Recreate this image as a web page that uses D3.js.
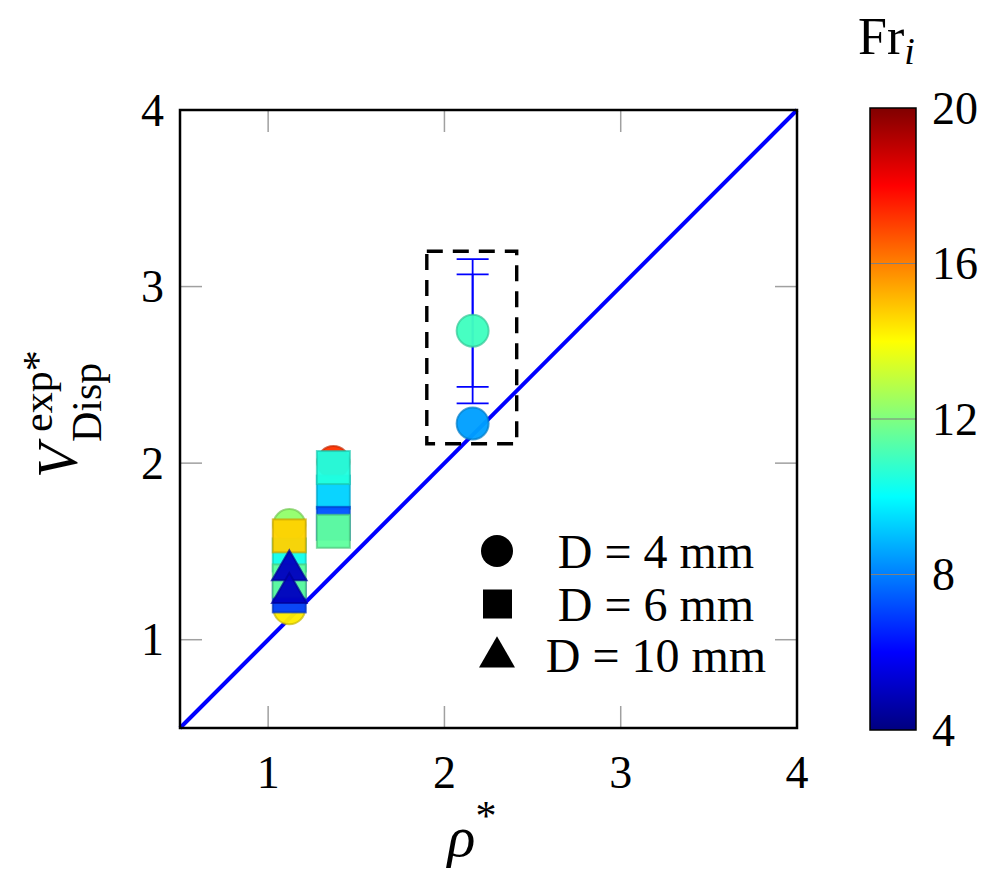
<!DOCTYPE html>
<html>
<head>
<meta charset="utf-8">
<script src="https://cdn.jsdelivr.net/npm/d3@7"></script>
<style>
  body { margin: 0; background: #fff; }
  text, tspan { font-family: "Liberation Serif", "Times New Roman", serif; fill: #000; }
  .it { font-family: "Liberation Serif", serif; font-style: italic; }
</style>
</head>
<body>
<script>
// D = 4 mm (circles)
let circRho = [1.12, 1.12, 1.37, 2.16, 2.16];
let circV = [1.649, 1.178, 2.007, 2.75, 2.225];
let circFr = [12.3, 14.3, 17.2, 11.0, 8.5];

// D = 6 mm (squares), in drawing order
let sqRho = [1.12, 1.12, 1.12, 1.12, 1.37, 1.37, 1.37, 1.37];
let sqV = [1.48, 1.248, 1.333, 1.588, 1.836, 1.975, 1.659, 1.614];
let sqFr = [10.3, 7.0, 11.5, 14.7, 9.3, 10.5, 7.3, 11.5];

// D = 10 mm (triangles)
let triRho = [1.12, 1.12];
let triV = [1.393, 1.265];
let triFr = [5.0, 5.0];

// error bars on the rho* = 2.16 point
let errRho = [2.16, 2.16];
let errLow = [2.338, 2.432];
let errHigh = [3.156, 3.069];

// dashed box around the large-density case
let boxRho = [1.9, 2.41];
let boxV = [2.11, 3.2];

let xTicks = [1, 2, 3, 4];
let yTicks = [1, 2, 3, 4];
let cbTicks = [4, 8, 12, 16, 20];
let legendLabels = ["D = 4 mm", "D = 6 mm", "D = 10 mm"];

let margin = { top: 110, left: 180 };
let width = 617, height = 618;

let svg = d3.select("body").append("svg").attr("width", 997).attr("height", 879);

let x = d3.scaleLinear().domain([0.5, 4]).range([margin.left, margin.left + width]);
let y = d3.scaleLinear().domain([0.5, 4]).range([margin.top + height, margin.top]);

// jet colormap over Fr_i in [4, 20]
let jet = d3.scaleLinear()
  .domain([4, 6, 10, 14, 18, 20])
  .range(["#000080", "#0000ff", "#00ffff", "#ffff00", "#ff0000", "#800000"])
  .interpolate(d3.interpolateRgb);
let edge = function(fr) { return d3.interpolateRgb(jet(fr), "#000")(0.22); };

// ticks (inside, grey, all four sides)
let tickLen = 22;
let ticks = svg.append("g").attr("stroke", "#a0a0a0").attr("stroke-width", 1.5);
xTicks.filter(d => d < 4).forEach(function(d) {
  ticks.append("line").attr("x1", x(d)).attr("x2", x(d)).attr("y1", y(0.5)).attr("y2", y(0.5) - tickLen);
  ticks.append("line").attr("x1", x(d)).attr("x2", x(d)).attr("y1", y(4)).attr("y2", y(4) + tickLen);
});
yTicks.filter(d => d < 4).forEach(function(d) {
  ticks.append("line").attr("y1", y(d)).attr("y2", y(d)).attr("x1", x(0.5)).attr("x2", x(0.5) + tickLen);
  ticks.append("line").attr("y1", y(d)).attr("y2", y(d)).attr("x1", x(4)).attr("x2", x(4) - tickLen);
});

// tick labels
svg.append("g").selectAll("text").data(xTicks).enter().append("text")
  .attr("x", d => x(d)).attr("y", y(0.5) + 60)
  .attr("text-anchor", "middle").style("font-size", "46px").text(d => d);
svg.append("g").selectAll("text").data(yTicks).enter().append("text")
  .attr("x", x(0.5) - 16).attr("y", d => y(d)).attr("dy", "0.34em")
  .attr("text-anchor", "end").style("font-size", "46px").text(d => d);

// y = x line
svg.append("line")
  .attr("x1", x(0.5)).attr("y1", y(0.5)).attr("x2", x(4)).attr("y2", y(4))
  .attr("stroke", "#0000ff").attr("stroke-width", 4);

// dashed box
svg.append("rect")
  .attr("x", x(boxRho[0])).attr("y", y(boxV[1]))
  .attr("width", x(boxRho[1]) - x(boxRho[0])).attr("height", y(boxV[0]) - y(boxV[1]))
  .attr("fill", "none").attr("stroke", "#000").attr("stroke-width", 3.4)
  .attr("stroke-dasharray", "16,10");

// error bars
let eb = svg.append("g").attr("stroke", "#0000ff").attr("stroke-width", 1.8);
errRho.forEach(function(r, i) {
  eb.append("line").attr("x1", x(r)).attr("x2", x(r)).attr("y1", y(errLow[i])).attr("y2", y(errHigh[i]));
  [errLow[i], errHigh[i]].forEach(function(v) {
    eb.append("line").attr("x1", x(r) - 16).attr("x2", x(r) + 16).attr("y1", y(v)).attr("y2", y(v));
  });
});

// markers
let markers = svg.append("g").attr("stroke-width", 2).attr("fill-opacity", 0.96);
circRho.forEach(function(r, i) {
  markers.append("circle").attr("cx", x(r)).attr("cy", y(circV[i])).attr("r", 16)
    .attr("fill", jet(circFr[i])).attr("stroke", edge(circFr[i])).attr("stroke-opacity", 0.7);
});
sqRho.forEach(function(r, i) {
  markers.append("rect").attr("x", x(r) - 16.5).attr("y", y(sqV[i]) - 16.5)
    .attr("width", 33).attr("height", 33)
    .attr("fill", jet(sqFr[i])).attr("stroke", edge(sqFr[i])).attr("stroke-opacity", 0.7);
});
let tri = d3.symbol().type(d3.symbolTriangle).size(520);
triRho.forEach(function(r, i) {
  markers.append("path").attr("d", tri())
    .attr("transform", "translate(" + x(r) + "," + y(triV[i]) + ")")
    .attr("fill", jet(triFr[i])).attr("stroke", edge(triFr[i])).attr("stroke-opacity", 0.7);
});

// frame
svg.append("rect").attr("x", x(0.5)).attr("y", y(4)).attr("width", width).attr("height", height)
  .attr("fill", "none").attr("stroke", "#000").attr("stroke-width", 2.5);

// legend
let lg = svg.append("g");
let legY = [551, 604, 655];
lg.append("circle").attr("cx", 497).attr("cy", legY[0]).attr("r", 16);
lg.append("rect").attr("x", 483).attr("y", legY[1] - 14.5).attr("width", 29).attr("height", 29);
lg.append("path").attr("d", d3.symbol().type(d3.symbolTriangle).size(560)())
  .attr("transform", "translate(497," + (legY[2] + 2) + ")");
lg.selectAll("text").data(legendLabels).enter().append("text")
  .attr("x", 656).attr("y", (d, i) => legY[i]).attr("dy", "0.35em")
  .attr("text-anchor", "middle").style("font-size", "48px").text(d => d);

// x label
let xl = svg.append("text").attr("x", 472).attr("y", 856).attr("text-anchor", "middle");
xl.append("tspan").attr("class", "it").style("font-size", "58px").text("ρ");
xl.append("tspan").attr("dy", -26).style("font-size", "42px").text("*");

// y label
let yl = svg.append("g").attr("transform", "translate(77,478) rotate(-90)");
yl.append("text").attr("class", "it").attr("x", 0).attr("y", 0).style("font-size", "56px").text("V");
yl.append("text").attr("x", 46).attr("y", -25).style("font-size", "42px").text("exp*");
yl.append("text").attr("x", 36).attr("y", 24).style("font-size", "42px").text("Disp");

// colorbar
let cb = { x: 870, w: 46 };
let cy = d3.scaleLinear().domain([4, 20]).range([730, 108]);
let grad = svg.append("defs").append("linearGradient").attr("id", "jet")
  .attr("x1", 0).attr("y1", 1).attr("x2", 0).attr("y2", 0);
jet.domain().forEach(function(d) {
  grad.append("stop").attr("offset", (d - 4) / 16).attr("stop-color", jet(d));
});
svg.append("rect").attr("x", cb.x).attr("y", cy(20)).attr("width", cb.w).attr("height", cy(4) - cy(20))
  .attr("fill", "url(#jet)");
svg.append("g").selectAll("line").data(cbTicks.filter(d => d > 4 && d < 20)).enter().append("line")
  .attr("x1", cb.x).attr("x2", cb.x + cb.w).attr("y1", d => cy(d)).attr("y2", d => cy(d))
  .attr("stroke", "#808080").attr("stroke-width", 1.2);
svg.append("rect").attr("x", cb.x).attr("y", cy(20)).attr("width", cb.w).attr("height", cy(4) - cy(20))
  .attr("fill", "none").attr("stroke", "#000").attr("stroke-width", 1.5);
svg.append("g").selectAll("text").data(cbTicks).enter().append("text")
  .attr("x", 932).attr("y", d => cy(d)).attr("dy", "0.34em")
  .style("font-size", "46px").text(d => d);

let ct = svg.append("text").attr("x", 858).attr("y", 54);
ct.append("tspan").style("font-size", "52px").text("Fr");
ct.append("tspan").attr("class", "it").attr("dy", 10).style("font-size", "38px").text("i");
</script>
</body>
</html>
